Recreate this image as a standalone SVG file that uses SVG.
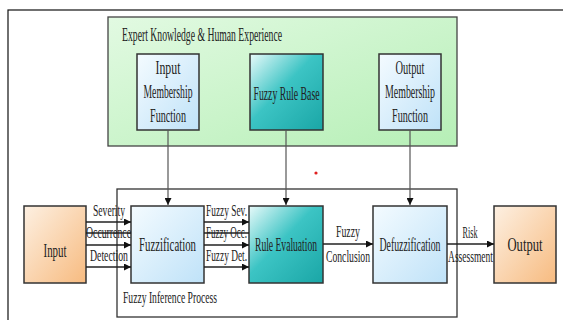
<svg xmlns="http://www.w3.org/2000/svg" width="563" height="320" viewBox="0 0 563 320">
<defs>
<linearGradient id="gGreen" x1="0" y1="0" x2="1" y2="1"><stop offset="0" stop-color="#e2fae2"/><stop offset="1" stop-color="#b6efb6"/></linearGradient>
<linearGradient id="gBlue" x1="0" y1="0" x2="1" y2="1"><stop offset="0" stop-color="#f4fbff"/><stop offset="1" stop-color="#bfe2f8"/></linearGradient>
<linearGradient id="gTeal" x1="0" y1="0" x2="1" y2="1"><stop offset="0" stop-color="#e8fafa"/><stop offset="0.45" stop-color="#3cc4c4"/><stop offset="1" stop-color="#1aa6a6"/></linearGradient>
<linearGradient id="gOrange" x1="0" y1="0" x2="1" y2="1"><stop offset="0" stop-color="#fdf0e2"/><stop offset="1" stop-color="#f7bb80"/></linearGradient>
<marker id="ah" viewBox="0 0 10 10" refX="10" refY="5" markerWidth="7" markerHeight="7" orient="auto" markerUnits="userSpaceOnUse"><path d="M0,0 L10,5 L0,10 z" fill="#111"/></marker>
<style>
text{font-family:"Liberation Serif","Times New Roman",serif;fill:#222;font-size:18px}
.c{text-anchor:middle}
.s{font-size:16px}
.box{stroke:#333;stroke-width:1.5}
.frame{fill:none;stroke:#333;stroke-width:1.3}
.ln{stroke:#222;stroke-width:1.3;fill:none}
.vl{stroke:#555;stroke-width:1.2;fill:none}
</style>
</defs>
<rect x="0" y="0" width="563" height="320" fill="#fff"/>
<rect x="8" y="10" width="620" height="400" fill="none" stroke="#111" stroke-width="1.2"/>

<g id="expert">
<rect x="108" y="17" width="349" height="129" fill="url(#gGreen)" stroke="#444" stroke-width="1.3"/>
<text x="122" y="41" textLength="160" lengthAdjust="spacingAndGlyphs" font-size="16">Expert Knowledge &amp; Human Experience</text>
</g>
<g id="fip">
<rect class="frame" x="117" y="189" width="340" height="128"/>
<text class="s" x="123" y="303" textLength="94" lengthAdjust="spacingAndGlyphs" font-size="17">Fuzzy Inference Process</text>
</g>

<g id="inmf">
<rect class="box" x="137" y="54" width="62" height="76" fill="url(#gBlue)"/>
<text class="c" x="168" y="74" textLength="25" lengthAdjust="spacingAndGlyphs">Input</text>
<text class="c" x="168" y="98" textLength="49" lengthAdjust="spacingAndGlyphs">Membership</text>
<text class="c" x="168" y="122" textLength="36" lengthAdjust="spacingAndGlyphs">Function</text>
</g>
<g id="rulebase">
<rect class="box" x="250" y="54" width="73" height="76" fill="url(#gTeal)"/>
<text class="c" x="286.5" y="100" textLength="66" lengthAdjust="spacingAndGlyphs">Fuzzy Rule Base</text>
</g>
<g id="outmf">
<rect class="box" x="379" y="54" width="62" height="76" fill="url(#gBlue)"/>
<text class="c" x="410" y="74" textLength="29" lengthAdjust="spacingAndGlyphs">Output</text>
<text class="c" x="410" y="98" textLength="50" lengthAdjust="spacingAndGlyphs">Membership</text>
<text class="c" x="410" y="122" textLength="36" lengthAdjust="spacingAndGlyphs">Function</text>
</g>

<g id="input">
<rect class="box" x="24" y="206" width="62" height="77" fill="url(#gOrange)"/>
<text class="c" x="55" y="257" textLength="23" lengthAdjust="spacingAndGlyphs">Input</text>
</g>
<g id="fuzzification">
<rect class="box" x="131" y="206" width="73" height="77" fill="url(#gBlue)"/>
<text class="c" x="167.5" y="251" textLength="57" lengthAdjust="spacingAndGlyphs">Fuzzification</text>
</g>
<g id="ruleeval">
<rect class="box" x="249" y="206" width="74" height="77" fill="url(#gTeal)"/>
<text class="c" x="286" y="251" textLength="62" lengthAdjust="spacingAndGlyphs">Rule Evaluation</text>
</g>
<g id="defuzz">
<rect class="box" x="373" y="206" width="74" height="77" fill="url(#gBlue)"/>
<text class="c" x="410" y="251" textLength="61" lengthAdjust="spacingAndGlyphs">Defuzzification</text>
</g>
<g id="output">
<rect class="box" x="494" y="206" width="62" height="77" fill="url(#gOrange)"/>
<text class="c" x="525" y="251" textLength="35" lengthAdjust="spacingAndGlyphs">Output</text>
</g>

<g id="connectors">
<line class="vl" x1="168" y1="130" x2="168" y2="205" marker-end="url(#ah)"/>
<line class="vl" x1="286" y1="130" x2="286" y2="205" marker-end="url(#ah)"/>
<line class="vl" x1="410" y1="130" x2="410" y2="205" marker-end="url(#ah)"/>

<line class="ln" x1="86" y1="222" x2="131" y2="222" marker-end="url(#ah)"/>
<line class="ln" x1="86" y1="233" x2="131" y2="233"/>
<line class="ln" x1="86" y1="245" x2="131" y2="245" marker-end="url(#ah)"/>
<line class="ln" x1="86" y1="267" x2="131" y2="267" marker-end="url(#ah)"/>

<line class="ln" x1="204" y1="222" x2="249" y2="222" marker-end="url(#ah)"/>
<line class="ln" x1="204" y1="233" x2="249" y2="233"/>
<line class="ln" x1="204" y1="245" x2="249" y2="245" marker-end="url(#ah)"/>
<line class="ln" x1="204" y1="267" x2="249" y2="267" marker-end="url(#ah)"/>

<line class="ln" x1="323" y1="244" x2="373" y2="244" marker-end="url(#ah)"/>
<line class="ln" x1="447" y1="244" x2="494" y2="244" marker-end="url(#ah)"/>

<text class="s" x="93" y="216" textLength="32" lengthAdjust="spacingAndGlyphs">Severity</text>
<text class="s" x="86" y="238" textLength="45" lengthAdjust="spacingAndGlyphs">Occurrence</text>
<text class="s" x="90" y="261" textLength="38" lengthAdjust="spacingAndGlyphs">Detection</text>
<text class="s" x="206" y="216" textLength="41" lengthAdjust="spacingAndGlyphs">Fuzzy Sev.</text>
<text class="s" x="206" y="238" textLength="41" lengthAdjust="spacingAndGlyphs">Fuzzy Occ.</text>
<text class="s" x="206" y="261" textLength="41" lengthAdjust="spacingAndGlyphs">Fuzzy Det.</text>
<text class="c s" x="348" y="237" textLength="24" lengthAdjust="spacingAndGlyphs">Fuzzy</text>
<text class="c s" x="348" y="262" textLength="44" lengthAdjust="spacingAndGlyphs">Conclusion</text>
<text class="c s" x="470" y="238" textLength="15" lengthAdjust="spacingAndGlyphs">Risk</text>
<text class="c s" x="470.5" y="262" textLength="45" lengthAdjust="spacingAndGlyphs">Assessment</text>
</g>
<circle cx="316" cy="173" r="1.6" fill="#e02020"/>
</svg>
